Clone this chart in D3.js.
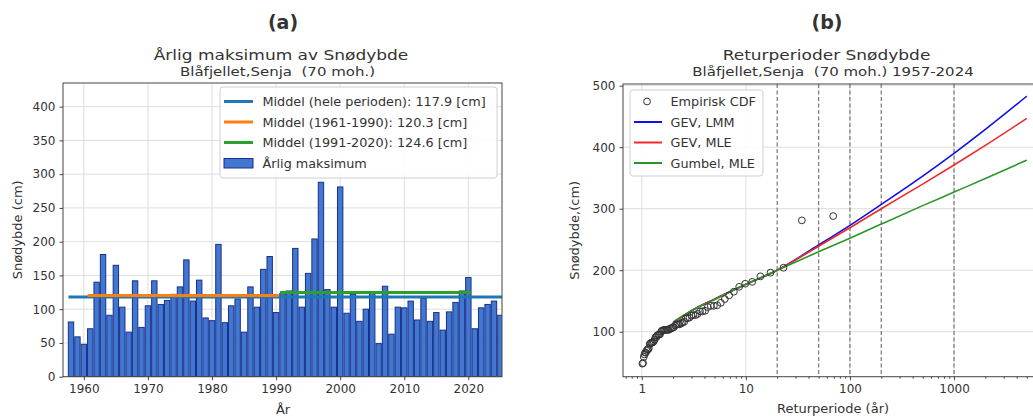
<!DOCTYPE html>
<html><head><meta charset="utf-8">
<script src="https://cdn.jsdelivr.net/npm/d3@7"></script>
<style>
body{margin:0;background:#fff}
svg{display:block}
text{font-family:"DejaVu Sans",sans-serif;fill:#333}
</style>
</head><body>
<svg id="c" width="1033" height="418"></svg>
<script>
// ---------- DATA ----------
const years = [1958,1959,1960,1961,1962,1963,1964,1965,1966,1967,1968,1969,1970,1971,1972,1973,1974,1975,1976,1977,
  1978,1979,1980,1981,1982,1983,1984,1985,1986,1987,1988,1989,1990,1991,1992,1993,1994,1995,1996,1997,
  1998,1999,2000,2001,2002,2003,2004,2005,2006,2007,2008,2009,2010,2011,2012,2013,2014,2015,2016,2017,
  2018,2019,2020,2021,2022,2023,2024,2025];
const snowMax = [81,59,48,71,140,181,91,165,103,66,142,73,105,142,107,113,122,133,173,112,
  143,87,83,196,80,105,115,66,133,103,159,178,95,123,127,190,103,153,204,288,
  129,103,281,94,122,82,100,126,49,134,63,103,102,112,84,116,82,95,69,96,
  110,127,147,71,102,107,112,91];
const meanLabels = ["Middel (hele perioden): 117.9 [cm]","Middel (1961-1990): 120.3 [cm]","Middel (1991-2020): 124.6 [cm]"];
const meanValues = [117.9, 120.3, 124.6];
const meanStart = [1957.6, 1960.6, 1990.6];
const meanEnd = [2025.4, 1990.4, 2020.4];
const meanColors = ["#1f77b4","#ff7f0e","#2ca02c"];
const barLabel = "Årlig maksimum";
const yearTicks = [1960,1970,1980,1990,2000,2010,2020];
const depthTicks = [0,50,100,150,200,250,300,350,400];

// empirical CDF (sorted maxima vs. return period)
const empT = [69,34.5,23,17.25,13.8,11.5,9.857,8.625,7.667,6.9,6.273,5.75,5.308,4.929,4.6,4.313,4.059,3.833,3.632,3.45,
  3.286,3.136,3.0,2.875,2.76,2.654,2.556,2.464,2.379,2.3,2.226,2.156,2.091,2.029,1.971,1.917,1.865,1.816,1.769,1.725,
  1.683,1.643,1.605,1.568,1.533,1.5,1.468,1.4375,1.408,1.38,1.353,1.327,1.302,1.278,1.255,1.232,1.211,1.190,1.169,1.15,
  1.131,1.113,1.095,1.078,1.062,1.045,1.030,1.015];
const empV = [288,281,204,196,190,181,178,173,165,159,153,147,143,142,142,140,134,133,133,129,
  127,127,126,123,122,122,116,115,113,112,112,112,110,107,107,105,105,103,103,103,
  103,103,102,102,100,96,95,95,94,91,91,87,84,83,82,82,81,80,73,71,
  71,69,66,66,63,59,49,48];
const rpT    = [2,3,5,10,20,50,100,200,500,1000,2000,5000];
const gevLmm = [114,134,153,177,200,241,273,307,353,390,429,483];
const gevMle = [114,134,153,177,200,239,269,300,340,371,403,447];
const gumbel = [116,134,152,177,200,230,252,275,305,327,349,379];
const curveNames = ["GEV, LMM","GEV, MLE","Gumbel, MLE"];
const curveColors = ["#1010e0","#ee2a2a","#2a962a"];
const returnLines = [20,50,100,200,1000];
const rpYTicks = [100,200,300,400,500];
const rpXTicks = [1,10,100,1000];

// ---------- DRAW ----------
const svg = d3.select("#c");
const defs = svg.append("defs");
const axisCol = "#444", gridCol = "#dedede";

function title(x, y, size, txt, sy, weight, fill){
  const t = svg.append("text").attr("transform",`translate(${x},${y}) scale(1,${sy})`)
    .attr("text-anchor","middle").attr("font-size",size).attr("xml:space","preserve")
    .style("white-space","pre").text(txt);
  if (weight) t.attr("font-weight",weight);
  if (fill) t.attr("fill",fill);
  return t;
}

// ===== Panel (a) =====
const A = {x0:63, x1:502, y0:83, y1:376.7};
const xA = d3.scaleLinear().domain([1956.75, 2025.25]).range([A.x0, A.x1]);
const yA = d3.scaleLinear().domain([0, 435]).range([A.y1, A.y0]);
defs.append("clipPath").attr("id","clipA").append("rect")
  .attr("x",A.x0).attr("y",A.y0).attr("width",A.x1-A.x0).attr("height",A.y1-A.y0);

const gA = svg.append("g");
gA.selectAll(".gx").data(yearTicks).join("line")
  .attr("x1",d=>xA(d)).attr("x2",d=>xA(d)).attr("y1",A.y0).attr("y2",A.y1)
  .attr("stroke",gridCol).attr("stroke-width",1);
gA.selectAll(".gy").data(depthTicks).join("line")
  .attr("x1",A.x0).attr("x2",A.x1).attr("y1",d=>yA(d)).attr("y2",d=>yA(d))
  .attr("stroke",gridCol).attr("stroke-width",1);

const plotA = gA.append("g").attr("clip-path","url(#clipA)");
const bw = xA(0.84) - xA(0);
plotA.selectAll("rect.bar").data(years).join("rect")
  .attr("x",d=>xA(d)-bw/2).attr("width",bw)
  .attr("y",(d,i)=>yA(snowMax[i])).attr("height",(d,i)=>yA(0)-yA(snowMax[i]))
  .attr("fill","#4178cf").attr("stroke","#1a2f8c").attr("stroke-width",1);
plotA.selectAll("line.mean").data(meanValues).join("line")
  .attr("x1",(d,i)=>xA(meanStart[i])).attr("x2",(d,i)=>xA(meanEnd[i]))
  .attr("y1",d=>yA(d)).attr("y2",d=>yA(d))
  .attr("stroke",(d,i)=>meanColors[i]).attr("stroke-width",3);

// axes (a)
const axA = gA.append("g").attr("transform",`translate(0,${A.y1})`)
  .call(d3.axisBottom(xA).tickValues(yearTicks).tickFormat(d3.format("d")).tickSize(3.5).tickPadding(4));
const ayA = gA.append("g").attr("transform",`translate(${A.x0},0)`)
  .call(d3.axisLeft(yA).tickValues(depthTicks).tickSize(3.5).tickPadding(4));
[axA, ayA].forEach(g=>{
  g.select(".domain").remove();
  g.selectAll(".tick line").attr("stroke",axisCol);
  g.selectAll(".tick text").attr("font-size","12px").attr("fill","#333").style("font-family","DejaVu Sans");
});
gA.append("rect").attr("x",A.x0).attr("y",A.y0).attr("width",A.x1-A.x0).attr("height",A.y1-A.y0)
  .attr("fill","none").attr("stroke",axisCol).attr("stroke-width",1);

// legend (a)
const lgA = gA.append("g");
lgA.append("rect").attr("x",220).attr("y",87).attr("width",277).attr("height",91).attr("rx",3)
  .attr("fill","#fff").attr("fill-opacity",0.85).attr("stroke","#d0d0d0");
const rowsA = [101.5,122,142.5,163];
meanLabels.forEach((t,i)=>{
  lgA.append("line").attr("x1",224).attr("x2",253).attr("y1",rowsA[i]).attr("y2",rowsA[i])
    .attr("stroke",meanColors[i]).attr("stroke-width",3);
  lgA.append("text").attr("x",262.5).attr("y",rowsA[i]+4.6).attr("font-size","12.8px").text(t);
});
lgA.append("rect").attr("x",224).attr("y",158.5).attr("width",29).attr("height",9.5)
  .attr("fill","#4178cf").attr("stroke","#1a2f8c");
lgA.append("text").attr("x",262.5).attr("y",rowsA[3]+4.6).attr("font-size","12.8px").text(barLabel);

// titles (a)
title(283, 29, "19px", "(a)", 1, "bold", "#111");
title(281, 59.5, "17px", "Årlig maksimum av Snødybde", 0.86);
title(277.5, 76, "15px", "Blåfjellet,Senja  (70 moh.)", 0.86);
svg.append("text").attr("transform",`translate(22,${(A.y0+A.y1)/2}) rotate(-90)`).attr("text-anchor","middle")
  .attr("font-size","13px").text("Snødybde (cm)");
svg.append("text").attr("x",283).attr("y",414).attr("text-anchor","middle")
  .attr("font-size","13px").text("År");

// ===== Panel (b) =====
const B = {x0:623, x1:1046, y0:84, y1:376.7};
const xB = d3.scaleLog().domain([0.66, 7650]).range([B.x0, B.x1]);
const yB = d3.scaleLinear().domain([26.8, 502.8]).range([B.y1, B.y0]);
defs.append("clipPath").attr("id","clipB").append("rect")
  .attr("x",B.x0).attr("y",B.y0).attr("width",B.x1-B.x0).attr("height",B.y1-B.y0);

const gB = svg.append("g");
gB.selectAll(".gx").data(rpXTicks).join("line")
  .attr("x1",d=>xB(d)).attr("x2",d=>xB(d)).attr("y1",B.y0).attr("y2",B.y1)
  .attr("stroke",gridCol).attr("stroke-width",1);
gB.selectAll(".gy").data(rpYTicks).join("line")
  .attr("x1",B.x0).attr("x2",B.x1).attr("y1",d=>yB(d)).attr("y2",d=>yB(d))
  .attr("stroke",gridCol).attr("stroke-width",1);

const plotB = gB.append("g").attr("clip-path","url(#clipB)");
plotB.selectAll("line.rl").data(returnLines).join("line")
  .attr("x1",d=>xB(d)).attr("x2",d=>xB(d)).attr("y1",B.y0).attr("y2",B.y1)
  .attr("stroke","#808080").attr("stroke-width",1.3).attr("stroke-dasharray","4,2.5");

const curves = [gevLmm, gevMle, gumbel];
const lineGen = d3.line().x(d=>xB(d[0])).y(d=>yB(d[1])).curve(d3.curveMonotoneX);
curves.forEach((c,i)=>{
  plotB.append("path").datum(rpT.map((t,j)=>[t,c[j]]))
    .attr("d",lineGen).attr("fill","none").attr("stroke",curveColors[i]).attr("stroke-width",1.6);
});
plotB.selectAll("circle.emp").data(empT).join("circle")
  .attr("cx",d=>xB(d)).attr("cy",(d,i)=>yB(empV[i])).attr("r",3.4)
  .attr("fill","none").attr("stroke","#333").attr("stroke-width",1);

// axes (b)
const minorB = xB.ticks().filter(t=>!rpXTicks.includes(t));
const axB = gB.append("g").attr("transform",`translate(0,${B.y1})`)
  .call(d3.axisBottom(xB).tickValues(rpXTicks).tickFormat(d3.format("d")).tickSize(3.5).tickPadding(4));
const axBm = gB.append("g").attr("transform",`translate(0,${B.y1})`)
  .call(d3.axisBottom(xB).tickValues(minorB).tickFormat("").tickSize(2));
const ayB = gB.append("g").attr("transform",`translate(${B.x0},0)`)
  .call(d3.axisLeft(yB).tickValues(rpYTicks).tickSize(3.5).tickPadding(4));
[axB, axBm, ayB].forEach(g=>{
  g.select(".domain").remove();
  g.selectAll(".tick line").attr("stroke",axisCol);
  g.selectAll(".tick text").attr("font-size","12px").attr("fill","#333").style("font-family","DejaVu Sans");
});
gB.append("rect").attr("x",B.x0).attr("y",B.y0).attr("width",B.x1-B.x0).attr("height",B.y1-B.y0)
  .attr("fill","none").attr("stroke",axisCol).attr("stroke-width",1);

// legend (b)
const lgB = gB.append("g");
lgB.append("rect").attr("x",630).attr("y",90).attr("width",133).attr("height",86).attr("rx",3)
  .attr("fill","#fff").attr("fill-opacity",0.85).attr("stroke","#d0d0d0");
const rowsB = [101.5,122,142.5,163];
lgB.append("circle").attr("cx",647).attr("cy",rowsB[0]).attr("r",3.4)
  .attr("fill","none").attr("stroke","#333");
lgB.append("text").attr("x",670.5).attr("y",rowsB[0]+4.6).attr("font-size","12.8px").text("Empirisk CDF");
curveNames.forEach((n,i)=>{
  lgB.append("line").attr("x1",634).attr("x2",662).attr("y1",rowsB[i+1]).attr("y2",rowsB[i+1])
    .attr("stroke",curveColors[i]).attr("stroke-width",2);
  lgB.append("text").attr("x",670.5).attr("y",rowsB[i+1]+4.6).attr("font-size","12.8px").text(n);
});

// titles (b)
title(827, 29, "19px", "(b)", 1, "bold", "#111");
title(826.5, 59.5, "17px", "Returperioder Snødybde", 0.86);
title(833, 76, "15px", "Blåfjellet,Senja  (70 moh.) 1957-2024", 0.86);
svg.append("text").attr("transform",`translate(579,${(B.y0+B.y1)/2}) rotate(-90)`).attr("text-anchor","middle")
  .attr("font-size","13px").text("Snødybde,(cm)");
svg.append("text").attr("x",833).attr("y",413).attr("text-anchor","middle")
  .attr("font-size","13px").text("Returperiode (år)");
</script>
</body></html>
